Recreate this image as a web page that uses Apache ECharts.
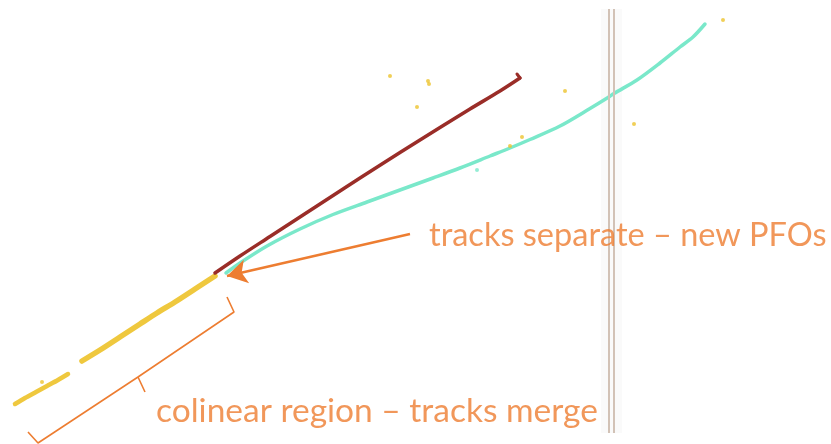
<!DOCTYPE html>
<html>
<head>
<meta charset="utf-8">
<script src="https://cdn.jsdelivr.net/npm/echarts@6/dist/echarts.min.js"></script>
<style>
  html, body { margin: 0; padding: 0; background: #ffffff; }
  #chart { width: 831px; height: 444px; }
</style>
</head>
<body>
<div id="chart"></div>
<script>
// Hit positions in detector view coordinates (x to the right, y downward)
const yellowTrackA = [[15,404],[25,398],[36,392],[47,386],[58,380],[68,374]];
const yellowTrackB = [[82,361],[100,350],[120,337],[140,324],[157,313],[175,302],[195,289],[215,276]];
const redTrack = [[215,273],[240,256],[270,236.5],[300,217],[330,197.5],[360,178],[400,152.5],[440,127.5],[470,109],[500,91],[520,78]];
const redTrackEnd = [[520,78],[517,74]];
const cyanTrack = [[226,273],[240,263],[267,246],[300,229],[333,214.5],[367,202],[400,190],[433,178],[460,168],[490,156],[510,148],[530,139.5],[560,126],[590,108.5],[608,97.5],[614,93.5],[637,80],[660,63],[680,47],[693,37],[705,24]];
const cyanHits = [[477,170]];
const yellowHits = [[390,76],[428,81],[429,84],[417,107],[565,91],[634,124],[723,20],[522,137],[510,146],[42,382]];
const detectorEdges = [609, 614];
const arrowFrom = [410, 234];
const arrowTo = [227, 276];
const bracePath = [[227,297],[234,312],[138,377],[145,392],[138,377],[38,443],[28,432]];
const labelTop = { text: 'tracks separate – new PFOs', at: [429, 236], size: 32.5 };
const labelBottom = { text: 'colinear region – tracks merge', at: [156, 411], size: 33.5 };

const orange = '#ED7D31';
const chart = echarts.init(document.getElementById('chart'));

function track(data, color, width, smooth) {
  return {
    type: 'line', data, symbol: 'none', smooth,
    lineStyle: { color, width, cap: 'round', join: 'round' },
    silent: true, z: 3
  };
}

chart.setOption({
  animation: false,
  backgroundColor: '#ffffff',
  grid: { left: 0, right: 0, top: 0, bottom: 0 },
  xAxis: { type: 'value', min: 0, max: 831, show: false },
  yAxis: { type: 'value', min: 0, max: 444, inverse: true, show: false },
  series: [
    {
      type: 'line', data: [], silent: true,
      markArea: {
        silent: true,
        itemStyle: { color: 'rgba(120,120,120,0.035)' },
        data: [[{ coord: [601, 9] }, { coord: [622, 433] }]]
      },
      markLine: {
        silent: true, symbol: 'none', label: { show: false },
        lineStyle: { color: '#d2c2b6', width: 2, type: 'solid' },
        data: detectorEdges.map(x => [{ coord: [x, 9] }, { coord: [x, 433] }])
      }
    },
    track(yellowTrackA, '#efc83e', 4.5, 0.25),
    track(yellowTrackB, '#efc83e', 5.5, 0.25),
    track(cyanTrack, '#7ae8ca', 3.5, 0.3),
    track(redTrack, '#9a2d28', 3.5, 0.3),
    track(redTrackEnd, '#9a2d28', 3, false),
    {
      type: 'scatter', data: cyanHits, symbolSize: 4,
      itemStyle: { color: '#7ae8ca' }, silent: true, z: 4
    },
    {
      type: 'scatter', data: yellowHits, symbolSize: 4,
      itemStyle: { color: '#ecc32e' }, silent: true, z: 4
    },
    {
      type: 'line', data: bracePath, symbol: 'none', silent: true, z: 5,
      lineStyle: { color: orange, width: 1.6 }
    },
    {
      type: 'line', data: [], silent: true, z: 6,
      markLine: {
        silent: true, symbol: ['none', 'arrow'], symbolSize: [18, 20],
        label: { show: false },
        lineStyle: { color: orange, width: 2.5, type: 'solid' },
        data: [[{ coord: arrowFrom }, { coord: arrowTo }]]
      }
    },
    {
      type: 'scatter', symbolSize: 0, silent: true, z: 7,
      data: [labelTop, labelBottom].map(l => ({
        value: l.at,
        label: {
          show: true, formatter: l.text, position: 'inside',
          align: 'left', verticalAlign: 'middle',
          color: orange, fontFamily: 'Lato', fontSize: l.size
        }
      }))
    }
  ]
});
</script>
</body>
</html>
